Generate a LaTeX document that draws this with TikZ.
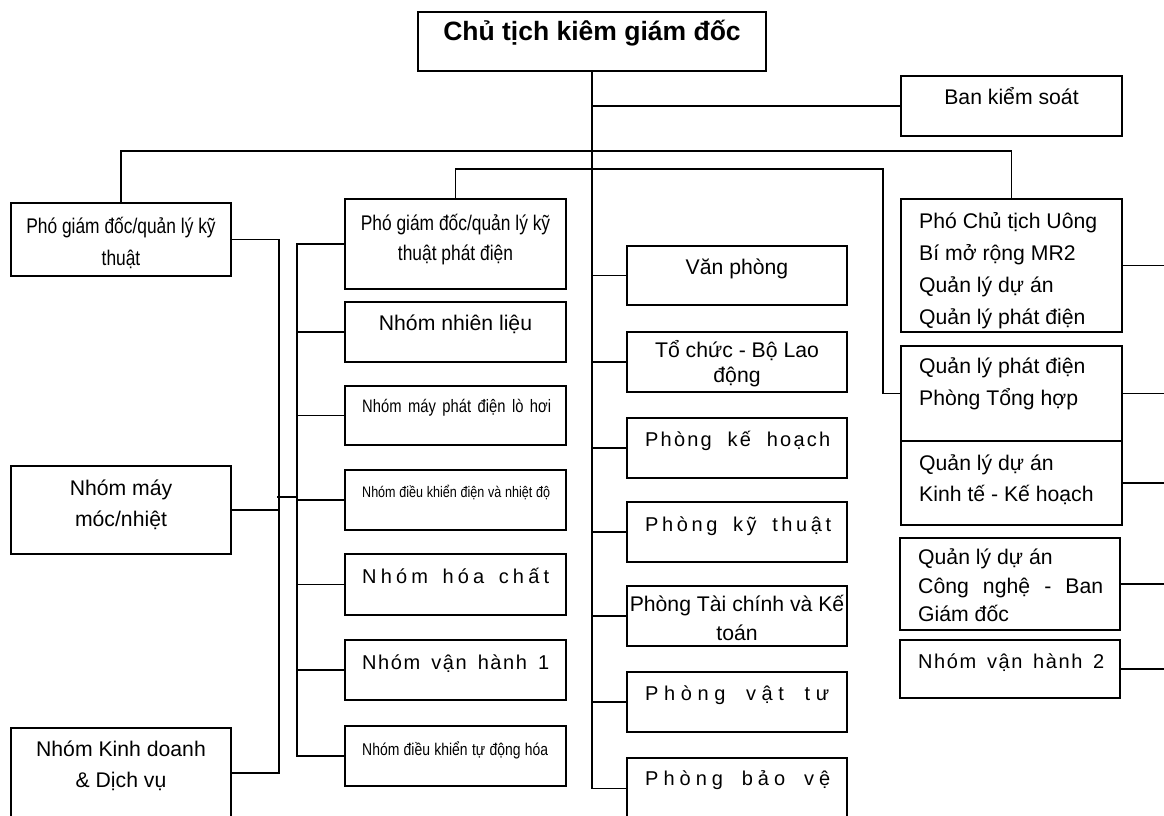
\documentclass[tikz,border=0pt]{standalone}
\usepackage{fontspec}
\setmainfont{Liberation Sans}
\newfontfamily\narrowfont{Liberation Sans}[FakeStretch=0.82]
\newcommand\mkbox[5]{\node[box, minimum width=#4pt-#2pt, minimum height=#5pt-#3pt] (#1) at (#2,#3) {};}
\tikzset{
  box/.style={draw, line width=1.7pt, rectangle, inner sep=0pt, outer sep=0pt, anchor=north west},
  conn/.style={line width=1.6pt},
  trunk/.style={line width=2.6pt},
  txt/.style={anchor=base, inner sep=0pt, font=\fontsize{21.2}{25}\selectfont},
  ltxt/.style={txt, anchor=base west},
  ntxt/.style={txt, font=\narrowfont\fontsize{21.2}{25}\selectfont},
  stxt/.style={ltxt, font={\fontsize{20}{24}\selectfont\addfontfeatures{LetterSpace=#1}}},
  stxt/.default=11,
}
\begin{document}
\begin{tikzpicture}[x=1pt, y=-1pt]
\useasboundingbox (0,0) rectangle (1164,816);
% boxes
\mkbox{title}{418}{12}{766}{71}
\mkbox{ban}{901}{76}{1122}{136}
\mkbox{pgdkt}{11}{203}{231}{276}
\mkbox{mm}{11}{466}{231}{554}
\mkbox{kd}{11}{728}{231}{818}
\mkbox{pgdpd}{345}{199}{566}{289}
\mkbox{nl}{345}{302}{566}{362}
\mkbox{lh}{345}{386}{566}{445}
\mkbox{dk}{345}{470}{566}{530}
\mkbox{hc}{345}{554}{566}{615}
\mkbox{vh}{345}{640}{566}{700}
\mkbox{td}{345}{726}{566}{786}
\mkbox{vp}{627}{246}{847}{305}
\mkbox{tc}{627}{332}{847}{392}
\mkbox{kh}{627}{418}{847}{478}
\mkbox{kt}{627}{502}{847}{562}
\mkbox{tck}{627}{586}{847}{646}
\mkbox{vt}{627}{672}{847}{732}
\mkbox{bv}{627}{758}{847}{819}
\mkbox{pcct}{901}{199}{1122}{332}
\mkbox{qlpd}{901}{346}{1122}{441}
\mkbox{ktkh}{901}{441}{1122}{525}
\mkbox{cn}{900}{538}{1120}{630}
\mkbox{vh2}{900}{640}{1120}{698}
% helper coordinates
\coordinate (lineA) at (0,151);
\coordinate (bx) at (883,169);
\coordinate (vL) at (279,0);
\coordinate (vG) at (297,0);
\coordinate (edge) at (1164,0);
\coordinate (s1) at (277,497);
\coordinate (s2) at (297,497);
% trunk and its branches
\draw[trunk] (title.south) -- (title.south |- bv.west);
\foreach \n in {ban,vp,tc,kh,kt,tck,vt,bv}
  \draw[conn] (title.south |- \n.west) -- (\n.west);
\draw[conn] (pgdkt.north) -- (pgdkt.north |- lineA) -- (pcct.north |- lineA) -- (pcct.north);
\draw[conn] (pgdpd.north) |- (bx) |- (qlpd.west);
% left group
\draw[conn] (pgdkt.east) -| (vL |- kd.east) -- (kd.east);
\draw[conn] (mm.east) -- (vL |- mm.east);
\draw[conn] (s1) -- (s2);
\draw[conn] (pgdpd.west) -| (vG |- td.west) -- (td.west);
\foreach \n in {nl,lh,dk,hc,vh}
  \draw[conn] (vG |- \n.west) -- (\n.west);
% right connectors
\foreach \n in {pcct,qlpd,ktkh,cn,vh2}
  \draw[conn] (\n.east) -- (edge |- \n.east);
% texts
\node[txt, font=\bfseries\fontsize{26.5}{30}\selectfont] at (592,41) {Chủ tịch kiêm giám đốc};
\node[txt] at (1011.5,104) {Ban kiểm soát};
\node[ntxt] at (121,233) {Phó giám đốc/quản lý kỹ};
\node[ntxt] at (121,265) {thuật};
\node[txt] at (121,495) {Nhóm máy};
\node[txt] at (121,526) {móc/nhiệt};
\node[txt] at (121,756) {Nhóm Kinh doanh};
\node[txt] at (121,787) {\& Dịch vụ};
\node[ntxt] at (455.5,230) {Phó giám đốc/quản lý kỹ};
\node[ntxt] at (455.5,260) {thuật phát điện};
\node[txt] at (455.5,330) {Nhóm nhiên liệu};
\node[ltxt, font=\narrowfont\fontsize{18}{22}\selectfont] at (362,412) {\makebox[189pt][s]{Nhóm máy phát điện lò hơi}};
\node[ltxt, font=\narrowfont\fontsize{15.3}{19}\selectfont] at (362,497) {\makebox[188pt][s]{Nhóm điều khiển điện và nhiệt độ}};
\node[stxt=21] at (362,583) {\makebox[187pt][s]{Nhóm hóa chất}};
\node[stxt=8] at (362,669) {\makebox[187pt][s]{Nhóm vận hành 1}};
\node[ltxt, font=\narrowfont\fontsize{17}{21}\selectfont] at (362,755) {\makebox[186pt][s]{Nhóm điều khiển tự động hóa}};
\node[txt] at (737,274) {Văn phòng};
\node[txt] at (737,357) {Tổ chức - Bộ Lao};
\node[txt] at (737,382) {động};
\node[stxt=11] at (645,446) {\makebox[185pt][s]{Phòng kế hoạch}};
\node[stxt=18] at (645,531) {\makebox[186pt][s]{Phòng kỹ thuật}};
\node[txt] at (737,611) {Phòng Tài chính và Kế};
\node[txt] at (737,640) {toán};
\node[stxt=28] at (645,700) {\makebox[184pt][s]{Phòng vật tư}};
\node[stxt=25] at (645,785) {\makebox[185pt][s]{Phòng bảo vệ}};
\node[ltxt] at (919,228) {Phó Chủ tịch Uông};
\node[ltxt] at (919,260) {Bí mở rộng MR2};
\node[ltxt] at (919,292) {Quản lý dự án};
\node[ltxt] at (919,324) {Quản lý phát điện};
\node[ltxt] at (919,373) {Quản lý phát điện};
\node[ltxt] at (919,405) {Phòng Tổng hợp};
\node[ltxt] at (919,470) {Quản lý dự án};
\node[ltxt] at (919,501) {Kinh tế - Kế hoạch};
\node[ltxt] at (918,564) {Quản lý dự án};
\node[ltxt] at (918,593) {\makebox[185pt][s]{Công nghệ - Ban}};
\node[ltxt] at (918,621) {Giám đốc};
\node[stxt=8] at (918,668) {\makebox[186pt][s]{Nhóm vận hành 2}};
\end{tikzpicture}
\end{document}
